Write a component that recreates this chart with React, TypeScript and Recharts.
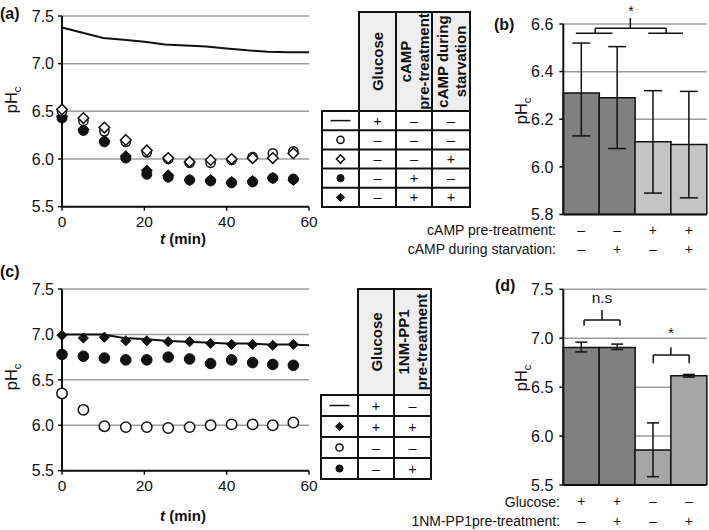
import React from 'react';
import {
  ComposedChart, BarChart, Bar, XAxis, YAxis, CartesianGrid, Scatter, Line,
  ErrorBar, Cell,
} from 'recharts';

const FONT = '"Liberation Sans", Arial, Helvetica, sans-serif';
const INK = '#111';
const GRID = '#9c9c9c';

// ---------- Panel (a) data ----------
const sampleTimes = [0, 5.2, 10.3, 15.5, 20.6, 25.8, 31, 36.1, 41.2, 46.3, 51.2, 56.2];
const lineTimes = [0, 5, 10, 15, 20, 25, 30, 35, 40, 45, 50, 55, 60];
const aGlucoseLine = [7.38, 7.325, 7.27, 7.25, 7.23, 7.2, 7.19, 7.18, 7.16, 7.14, 7.125, 7.12, 7.12];
const aOpenCircle = [6.5, 6.4, 6.29, 6.18, 6.07, 6.0, 5.96, 5.96, 5.99, 6.02, 6.06, 6.08];
const aOpenDiamond = [6.52, 6.43, 6.33, 6.2, 6.09, 6.01, 5.97, 5.99, 6.0, 6.01, 6.01, 6.06];
const aFilledCircle = [6.43, 6.3, 6.18, 6.01, 5.84, 5.81, 5.78, 5.77, 5.75, 5.76, 5.8, 5.79];
const aFilledDiamond = [6.45, 6.31, 6.19, 6.03, 5.88, 5.83, 5.78, 5.78, 5.76, 5.77, 5.8, 5.78];

// ---------- Panel (c) data ----------
const cGlucoseLine = [7.0, 7.0, 7.0, 6.96, 6.95, 6.93, 6.92, 6.91, 6.9, 6.9, 6.89, 6.89, 6.88];
const cFilledDiamond = [6.99, 6.96, 6.97, 6.93, 6.93, 6.92, 6.92, 6.9, 6.89, 6.89, 6.88, 6.89];
const cFilledCircle = [6.78, 6.76, 6.74, 6.72, 6.72, 6.75, 6.73, 6.68, 6.72, 6.69, 6.67, 6.66];
const cOpenCircle = [6.35, 6.17, 5.99, 5.98, 5.98, 5.97, 5.98, 6.0, 6.01, 6.01, 6.0, 6.03];

const timeTicks = [0, 20, 40, 60];
const phTicksAC = [5.5, 6.0, 6.5, 7.0, 7.5];

// ---------- Panel (b) data ----------
const bCategories = ['b1', 'b2', 'b3', 'b4'];
const bMeans = [6.31, 6.29, 6.106, 6.094];
const bLow = [6.13, 6.077, 5.89, 5.87];
const bHigh = [6.52, 6.505, 6.32, 6.317];
const bFills = ['#808080', '#808080', '#c4c4c4', '#c4c4c4'];
const bTicks = [5.8, 6.0, 6.2, 6.4, 6.6];
const bRowLabels = ['cAMP pre-treatment:', 'cAMP during starvation:'];
const bSigns = [['–', '–', '+', '+'], ['–', '+', '–', '+']];

// ---------- Panel (d) data ----------
const dCategories = ['d1', 'd2', 'd3', 'd4'];
const dMeans = [6.905, 6.905, 5.857, 6.616];
const dLow = [6.86, 6.885, 5.585, 6.603];
const dHigh = [6.96, 6.94, 6.135, 6.63];
const dFills = ['#808080', '#808080', '#a6a6a6', '#a6a6a6'];
const dTicks = [5.5, 6.0, 6.5, 7.0, 7.5];
const dRowLabels = ['Glucose:', '1NM-PP1pre-treatment:'];
const dSigns = [['+', '+', '–', '–'], ['–', '+', '–', '+']];

// ---------- Tables ----------
const tableAHeaders = [['Glucose'], ['cAMP', 'pre-treatment'], ['cAMP during', 'starvation']];
const tableASymbols = ['line', 'openCircle', 'openDiamond', 'filledCircle', 'filledDiamond'];
const tableASigns = [['+', '–', '–'], ['–', '–', '–'], ['–', '–', '+'], ['–', '+', '–'], ['–', '+', '+']];
const tableCHeaders = [['Glucose'], ['1NM-PP1', 'pre-treatment']];
const tableCSymbols = ['line', 'filledDiamond', 'openCircle', 'filledCircle'];
const tableCSigns = [['+', '–'], ['+', '+'], ['–', '–'], ['–', '+']];

// significance brackets: [x0, y0, x1, y1] in (bar-slot units, pH)
const bBracket = [
  [1.87, 6.582, 1.87, 6.625],
  [0.89, 6.582, 2.87, 6.582],
  [0.89, 6.582, 0.89, 6.561],
  [2.87, 6.582, 2.87, 6.561],
  [0.35, 6.561, 1.37, 6.561],
  [2.37, 6.561, 3.34, 6.561],
];
const dBracket = [
  [0.58, 7.186, 1.58, 7.186],
  [0.58, 7.186, 0.58, 7.128],
  [1.58, 7.186, 1.58, 7.128],
  [1.08, 7.186, 1.08, 7.288],
  [2.51, 6.829, 3.51, 6.829],
  [2.51, 6.829, 2.51, 6.744],
  [3.51, 6.829, 3.51, 6.744],
  [3.0, 6.829, 3.0, 6.907],
];

// ---------- helpers ----------
const toPts = (times: number[], vals: number[]) => vals.map((v, i) => ({ t: times[i], v }));
const diamondPts = (cx: number, cy: number, h: number) =>
  `${cx},${cy - h} ${cx + h},${cy} ${cx},${cy + h} ${cx - h},${cy}`;

const drawSymbol = (kind: string, cx: number, cy: number, s: number, key?: any) => {
  switch (kind) {
    case 'openCircle':
      return <circle key={key} cx={cx} cy={cy} r={s} fill="#fff" stroke={INK} strokeWidth={1.5} />;
    case 'filledCircle':
      return <circle key={key} cx={cx} cy={cy} r={s} fill={INK} stroke={INK} strokeWidth={1} />;
    case 'openDiamond':
      return <polygon key={key} points={diamondPts(cx, cy, s * 1.15)} fill="#fff" stroke={INK} strokeWidth={1.5} />;
    case 'filledDiamond':
      return <polygon key={key} points={diamondPts(cx, cy, s * 1.15)} fill={INK} stroke={INK} strokeWidth={1} />;
    case 'line':
      return <line key={key} x1={cx - 10} x2={cx + 10} y1={cy} y2={cy} stroke={INK} strokeWidth={1.5} />;
    default:
      return null;
  }
};

const shapeOf = (kind: string, s: number) => (p: any) => {
  if (p == null || p.cx == null || p.cy == null) return <g />;
  return drawSymbol(kind, p.cx, p.cy, s);
};

const axisLine = { stroke: INK, strokeWidth: 2 };
const xTickStyle = { fontSize: 15.5, fill: INK, fontFamily: FONT };
const yTickStyle = { fontSize: 16, fill: INK, fontFamily: FONT };

const TimeChart = ({ top, lineVals, series }: any) => (
  <div style={{ position: 'absolute', left: 0, top }}>
    <ComposedChart width={320} height={260} margin={{ top: top === 0 ? 16 : 29, right: 11, left: 0, bottom: top === 0 ? 13.3 : 9.3 }}>
      <CartesianGrid vertical={false} stroke={GRID} strokeWidth={1.5} />
      <XAxis type="number" dataKey="t" domain={[0, 60]} ticks={timeTicks} height={40}
        axisLine={axisLine} tickLine={{ stroke: INK, strokeWidth: 1.5 }} tickSize={4} tickMargin={5}
        tick={xTickStyle} interval={0} />
      <YAxis type="number" dataKey="v" domain={[5.5, 7.5]} ticks={phTicksAC} width={62}
        axisLine={axisLine} tickLine={{ stroke: INK, strokeWidth: 1.5 }} tickSize={4} tickMargin={4}
        tick={yTickStyle} tickFormatter={(v: number) => v.toFixed(1)} interval={0} />
      <Line data={toPts(lineTimes, lineVals)} dataKey="v" type="linear" stroke={INK} strokeWidth={2}
        dot={false} activeDot={false} isAnimationActive={false} />
      {series.map((s: any, i: number) => (
        <Scatter key={i} data={toPts(sampleTimes, s.vals)} dataKey="v" shape={shapeOf(s.kind, s.size)}
          isAnimationActive={false} />
      ))}
    </ComposedChart>
  </div>
);

const SignTick = ({ x, y, index, rows, offsets }: any) => (
  <g>
    {rows.map((r: string[], k: number) => (
      <text key={k} x={x} y={y + offsets[k]} textAnchor="middle" fontSize={14} fontFamily={FONT} fill={INK}>
        {r[index]}
      </text>
    ))}
  </g>
);

const BarPanel = ({ top, height, marginTop, plotH, cats, means, lows, highs, fills, ticks, domain,
  signs, signOffsets, capWidth }: any) => {
  const data = cats.map((c: string, i: number) => ({
    name: c, v: means[i], err: [means[i] - lows[i], highs[i] - means[i]],
  }));
  return (
    <div style={{ position: 'absolute', left: 460, top }}>
      <BarChart width={249} height={height} data={data}
        margin={{ top: marginTop, right: 2.3, left: 0, bottom: 0 }} barCategoryGap={0} barGap={0}>
        <CartesianGrid vertical={false} stroke={GRID} strokeWidth={1.5} />
        <XAxis dataKey="name" height={height - marginTop - plotH} axisLine={axisLine}
          tickLine={false} tickSize={0} tickMargin={0} interval={0}
          tick={<SignTick rows={signs} offsets={signOffsets} />} />
        <YAxis type="number" domain={domain} ticks={ticks} width={103.3} axisLine={axisLine}
          tickLine={{ stroke: INK, strokeWidth: 1.5 }} tickSize={4} tickMargin={6} tick={yTickStyle}
          tickFormatter={(v: number) => v.toFixed(1)} interval={0} allowDataOverflow />
        <Bar dataKey="v" stroke={INK} strokeWidth={1.5} isAnimationActive={false}>
          {data.map((d: any, i: number) => <Cell key={i} fill={fills[i]} />)}
          <ErrorBar dataKey="err" width={capWidth} stroke={INK} strokeWidth={1.5} />
        </Bar>
      </BarChart>
    </div>
  );
};

// plot-area geometry of bar panels, used to place bracket annotations
const bPlot = { left: 563.3, right: 706.7, top: 24, bottom: 214.5, lo: 5.8, hi: 6.6, n: 4 };
const dPlot = { left: 563.3, right: 706.7, top: 289.3, bottom: 485, lo: 5.5, hi: 7.5, n: 4 };

const Brackets = ({ plot, segs }: any) => {
  const px = (u: number) => plot.left + (u / plot.n) * (plot.right - plot.left);
  const py = (v: number) => plot.bottom - ((v - plot.lo) / (plot.hi - plot.lo)) * (plot.bottom - plot.top);
  return (
    <g>
      {segs.map((s: number[], i: number) => (
        <line key={i} x1={px(s[0])} y1={py(s[1])} x2={px(s[2])} y2={py(s[3])} stroke={INK} strokeWidth={1.5} />
      ))}
    </g>
  );
};

const Table = ({ cols, headerTop, rows, headers, symbols, signs }: any) => {
  const bodyTop = rows[0];
  const bodyBottom = rows[rows.length - 1];
  const right = cols[cols.length - 1];
  const els: any[] = [];
  headers.forEach((lines: string[], j: number) => {
    const x0 = cols[j + 1], x1 = cols[j + 2];
    els.push(<rect key={'h' + j} x={x0} y={headerTop} width={x1 - x0} height={bodyTop - headerTop}
      fill="#eeeeee" stroke={INK} strokeWidth={2} />);
    const cx = (x0 + x1) / 2;
    const cy = (headerTop + bodyTop) / 2;
    lines.forEach((ln: string, k: number) => {
      const bx = cx + (k - (lines.length - 1) / 2) * 18 + 5.5;
      els.push(
        <text key={'ht' + j + k} x={bx} y={cy} transform={`rotate(-90 ${bx} ${cy})`} textAnchor="middle"
          fontSize={15} fontWeight="bold" fontFamily={FONT} fill={INK}>{ln}</text>
      );
    });
  });
  els.push(<rect key="body" x={cols[0]} y={bodyTop} width={right - cols[0]} height={bodyBottom - bodyTop}
    fill="#fff" stroke={INK} strokeWidth={2} />);
  rows.slice(1, -1).forEach((y: number, i: number) => {
    els.push(<line key={'r' + i} x1={cols[0]} x2={right} y1={y} y2={y} stroke={INK} strokeWidth={2} />);
  });
  cols.slice(1, -1).forEach((x: number, i: number) => {
    els.push(<line key={'c' + i} x1={x} x2={x} y1={bodyTop} y2={bodyBottom} stroke={INK} strokeWidth={2} />);
  });
  symbols.forEach((sym: string, i: number) => {
    const cy = (rows[i] + rows[i + 1]) / 2;
    els.push(drawSymbol(sym, (cols[0] + cols[1]) / 2, cy, 3.6, 's' + i));
    signs[i].forEach((sg: string, j: number) => {
      els.push(<text key={'g' + i + j} x={(cols[j + 1] + cols[j + 2]) / 2} y={cy + 5} textAnchor="middle"
        fontSize={14.5} fontFamily={FONT} fill={INK}>{sg}</text>);
    });
  });
  return <g>{els}</g>;
};

const PhLabel = ({ x, y }: any) => (
  <text x={x} y={y} transform={`rotate(-90 ${x} ${y})`} textAnchor="middle" fontSize={16.5} fontFamily={FONT} fill={INK}>
    pH<tspan fontSize={11} dy={4}>c</tspan>
  </text>
);

const TLabel = ({ x, y }: any) => (
  <text x={x} y={y} textAnchor="middle" fontSize={15} fontWeight="bold" fontFamily={FONT} fill={INK}>
    <tspan fontStyle="italic">t</tspan> (min)
  </text>
);

const PanelTag = ({ x, y, t }: any) => (
  <text x={x} y={y} fontSize={16} fontWeight="bold" fontFamily={FONT} fill={INK}>{t}</text>
);

export default function App() {
  return (
    <div style={{ position: 'absolute', left: 0, top: 0, width: 709, height: 530, background: '#fff', fontFamily: FONT }}>
      <TimeChart top={0} lineVals={aGlucoseLine} series={[
        { vals: aFilledDiamond, kind: 'filledDiamond', size: 4.8 },
        { vals: aFilledCircle, kind: 'filledCircle', size: 5 },
        { vals: aOpenCircle, kind: 'openCircle', size: 4.6 },
        { vals: aOpenDiamond, kind: 'openDiamond', size: 4.6 },
      ]} />
      <TimeChart top={260} lineVals={cGlucoseLine} series={[
        { vals: cFilledDiamond, kind: 'filledDiamond', size: 4.4 },
        { vals: cFilledCircle, kind: 'filledCircle', size: 5.3 },
        { vals: cOpenCircle, kind: 'openCircle', size: 5.2 },
      ]} />
      <BarPanel top={0} height={260} marginTop={24} plotH={190.5} cats={bCategories} means={bMeans} lows={bLow}
        highs={bHigh} fills={bFills} ticks={bTicks} domain={[5.8, 6.6]} signs={bSigns} signOffsets={[20.5, 39]}
        capWidth={9} />
      <BarPanel top={260} height={270} marginTop={29.3} plotH={195.7} cats={dCategories} means={dMeans} lows={dLow}
        highs={dHigh} fills={dFills} ticks={dTicks} domain={[5.5, 7.5]} signs={dSigns} signOffsets={[21, 40.5]}
        capWidth={6} />
      <svg width={709} height={530} style={{ position: 'absolute', left: 0, top: 0, pointerEvents: 'none' }}>
        <PanelTag x={0} y={19} t="(a)" />
        <PanelTag x={494} y={30} t="(b)" />
        <PanelTag x={0} y={277} t="(c)" />
        <PanelTag x={495} y={291} t="(d)" />
        <PhLabel x={17} y={100} />
        <PhLabel x={527} y={111} />
        <PhLabel x={17} y={377} />
        <PhLabel x={527} y={378} />
        <TLabel x={183} y={244} />
        <TLabel x={183} y={521} />
        <Table cols={[322, 359, 396, 432, 470]} headerTop={12} rows={[111, 130.2, 149.4, 168.6, 187.8, 207]}
          headers={tableAHeaders} symbols={tableASymbols} signs={tableASigns} />
        <Table cols={[321, 358, 394, 431]} headerTop={289} rows={[395, 416, 437, 458, 479]}
          headers={tableCHeaders} symbols={tableCSymbols} signs={tableCSigns} />
        {bRowLabels.map((l, i) => (
          <text key={'bl' + i} x={556} y={235 + i * 18.5} textAnchor="end" fontSize={14} fontFamily={FONT} fill={INK}>{l}</text>
        ))}
        {dRowLabels.map((l, i) => (
          <text key={'dl' + i} x={560} y={506.5 + i * 19.5} textAnchor="end" fontSize={14} fontFamily={FONT} fill={INK}>{l}</text>
        ))}
        <Brackets plot={bPlot} segs={bBracket} />
        <Brackets plot={dPlot} segs={dBracket} />
        <text x={631} y={16} textAnchor="middle" fontSize={14} fontFamily={FONT} fill={INK}>*</text>
        <text x={602} y={303} textAnchor="middle" fontSize={15.5} fontFamily={FONT} fill={INK}>n.s</text>
        <text x={671} y={338} textAnchor="middle" fontSize={14} fontFamily={FONT} fill={INK}>*</text>
      </svg>
    </div>
  );
}
